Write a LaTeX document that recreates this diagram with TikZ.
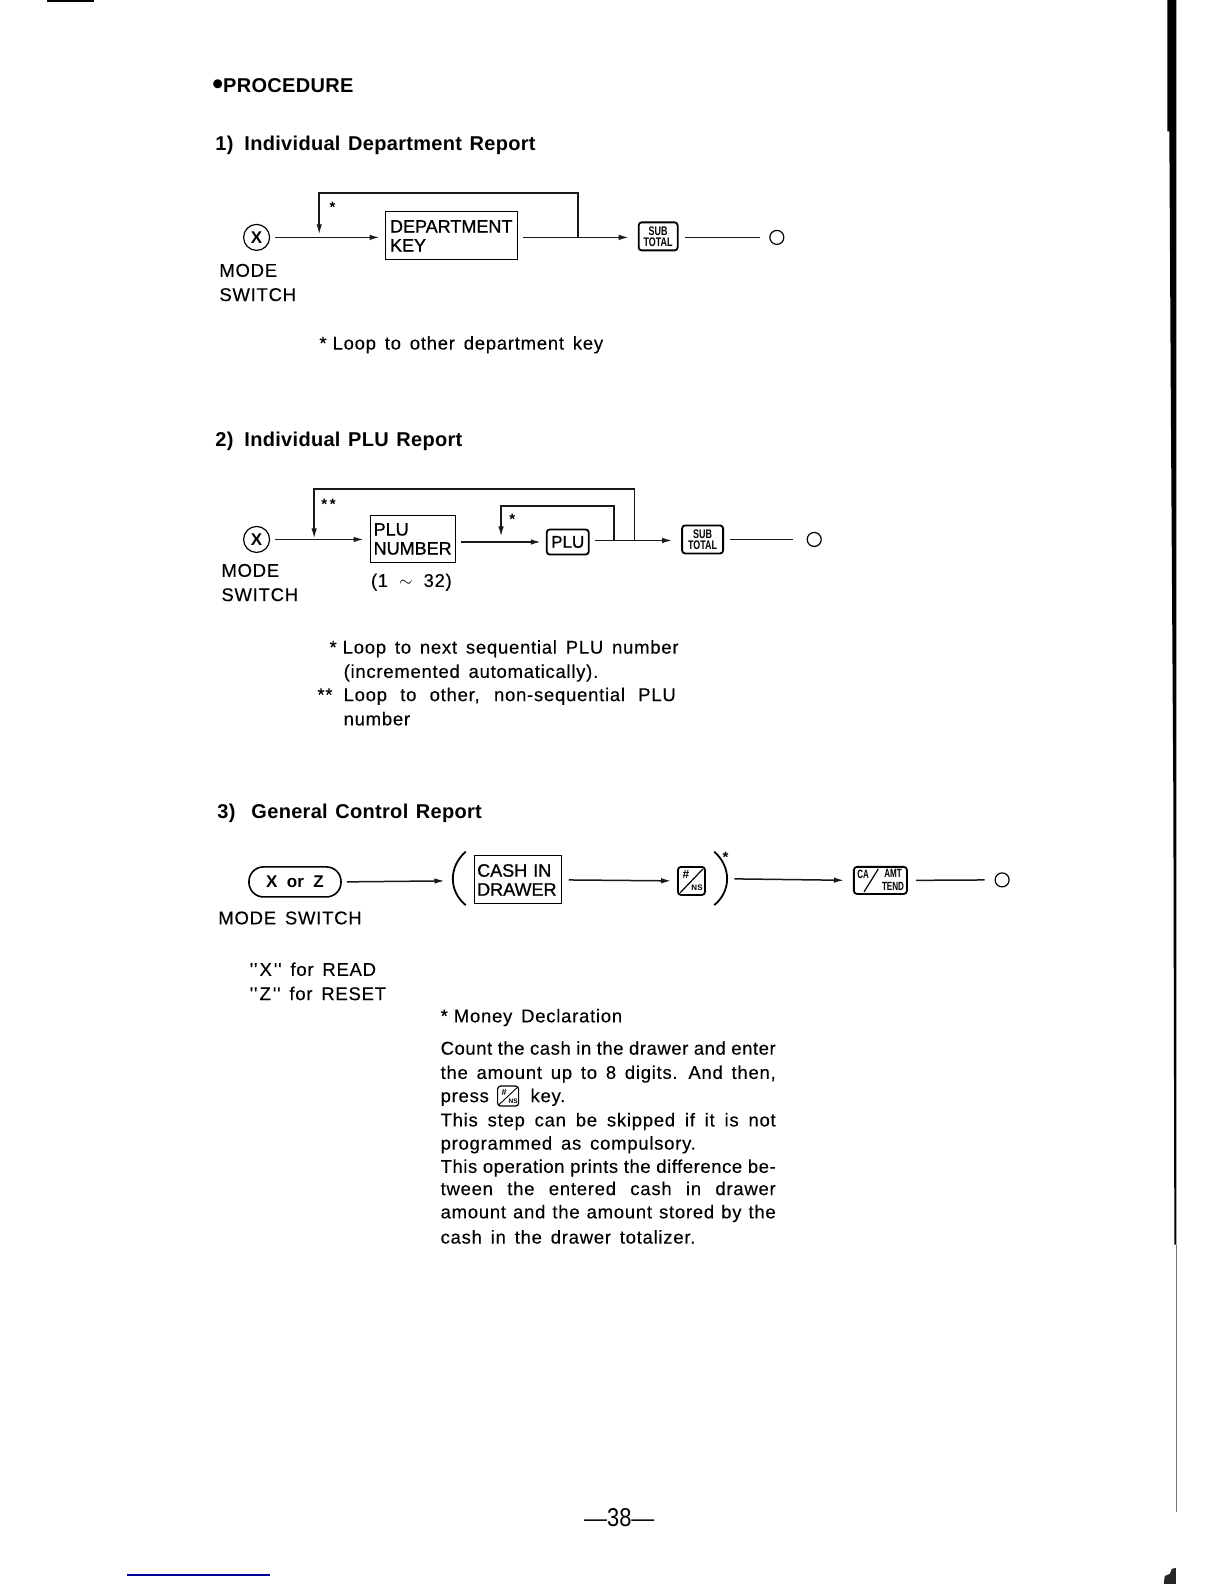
\documentclass[tikz,border=0pt]{standalone}
\usepackage{fontspec}
\usepackage{graphicx}
\usetikzlibrary{arrows.meta,calc}
\setmainfont{Liberation Sans}
\newfontfamily\bodyf[LetterSpace=4,WordSpace=1.5,FakeBold=0.2]{Liberation Sans}
\newfontfamily\tightf[LetterSpace=3,FakeBold=0.2]{Liberation Sans}
\newfontfamily\boxf[FakeBold=0.9]{Liberation Sans}
\newfontfamily\boldf[LetterSpace=1.5,WordSpace=1.3]{Liberation Sans Bold}
\tikzset{
  x=1.0099pt,y=-1.0099pt,
  line/.style={line width=1.5pt,black!90},
  arr/.style={line,-{Latex[length=10pt,width=5.5pt]}},
  txt/.style={inner sep=0pt,anchor=base west,font=\bodyf\fontsize{18.5}{22}\selectfont,text=black},
  startxt/.style={inner sep=0pt,anchor=base west,font=\bfseries\fontsize{15}{15}\selectfont},
  head/.style={inner sep=0pt,anchor=base west,font=\boldf\fontsize{20}{22}\selectfont},
  boxtxt/.style={draw,line width=1pt,inner sep=0pt,anchor=center,align=left,font=\boxf\fontsize{18}{19}\selectfont},
  keybox/.style={draw,line width=1.8pt,rounded corners=3pt,inner sep=0pt,anchor=center},
  endc/.style={circle,draw,line width=1.2pt,minimum size=14pt,inner sep=0pt},
  xc/.style={circle,draw,line width=1.2pt,minimum size=26pt,inner sep=0pt,font=\bfseries\fontsize{17}{17}\selectfont},
  tinyk/.style={inner sep=0pt,font=\bfseries\fontsize{9.5}{10}\selectfont},
}
\newcommand{\subtot}{\resizebox{29pt}{20pt}{\shortstack{\bfseries SUB\\[-1pt]\bfseries TOTAL}}}
\begin{document}
\begin{tikzpicture}
\path[use as bounding box,fill=white] (0,0) rectangle (1212,1568);
% page scan marks
\draw[line width=2pt,black] (47,0.5) -- (93,0.5);
\fill[black] (1155.5,0) -- (1155.5,130) -- (1157.5,130) -- (1159,400) -- (1161.5,792) -- (1162.5,1232) -- (1164.5,1232) -- (1164.5,0) -- cycle;
\draw[line width=1pt,black!55] (1164.3,1232) -- (1164.3,1497);
\draw[line width=1.2pt,blue!60!black] (126,1559) -- (267,1559);
\fill[black!85] (1164,1552) -- (1164,1568) -- (1152,1568) -- (1153,1560) -- (1158,1558) -- (1160,1553) -- cycle;

\node[head] (h0) at (210,92) {\raisebox{-1.5pt}{\fontsize{31}{31}\selectfont\textbullet}PROCEDURE};
\node[head] (h1) at (213,149) {1)\hspace{11pt}Individual Department Report};

% section 1
\node[xc] (x1) at (254,235) {X};
\node[boxtxt,minimum width=132pt,minimum height=48pt,text width=122pt] (dept) at (446.5,233.5) {DEPARTMENT\\KEY};
\node[keybox,minimum width=39pt,minimum height=28pt] (st1) at (651.5,234) {\subtot};
\node[endc] (e1) at (769,235) {};
\coordinate (j1) at (316,232);
\coordinate (r1) at (572,235);
\draw[arr,shorten <=5pt,shorten >=5pt] (x1.east) -- (dept.west |- x1.east);
\draw[arr,shorten <=5pt,shorten >=9pt] (dept.east |- r1) -- (st1.west |- r1);
\draw[line,shorten <=6pt,shorten >=9pt] (st1.east |- e1) -- (e1.west);
\draw[arr] (r1) -- (572,191) -- (316,191) -- (j1);
\node[startxt] (s1) at (326,210) {*};
\node[txt] (m1a) at (217,274) {MODE};
\node[txt] (m1b) at (217,298) {SWITCH};
\node[txt] (n1) at (316,346) {*\hspace{6pt}Loop to other department key};

% section 2
\node[head] (h2) at (213,442) {2)\hspace{11pt}Individual PLU Report};
\node[xc] (x2) at (254,534) {X};
\node[boxtxt,minimum width=85pt,minimum height=47pt,text width=78pt] (plun) at (408.5,533.5) {PLU\\NUMBER};
\node[keybox,minimum width=42pt,minimum height=25pt,font=\boxf\fontsize{17}{17}\selectfont] (plu) at (562,536.5) {PLU};
\node[keybox,minimum width=41pt,minimum height=28pt] (st2) at (695.5,534) {\subtot};
\node[endc] (e2) at (806,534) {};
\coordinate (j2) at (311,533);
\coordinate (j3) at (496,531);
\coordinate (r2) at (628,535);
\coordinate (r3) at (608,535);
\draw[arr,shorten <=5pt,shorten >=6pt] (x2.east) -- (plun.west |- x2.east);
\draw[arr,shorten <=5pt,shorten >=5pt] (plun.east |- plu.west) -- (plu.west);
\draw[arr,shorten <=5pt,shorten >=9pt] (plu.east |- r2) -- (st2.west |- r2);
\draw[line,shorten <=6pt,shorten >=14pt] (st2.east |- e2) -- (e2.west);
\draw[arr] (r2) -- (628,484) -- (311,484) -- (j2);
\draw[arr] (r3) -- (608,501) -- (496,501) -- (j3);
\node[startxt] (s2a) at (318,504) {*\,*};
\node[startxt] (s2b) at (504,519) {*};
\node[txt] (r2t) at (367,581) {(1\hspace{11pt}$\sim$\hspace{11pt}32)};
\node[txt] (m2a) at (219,571) {MODE};
\node[txt] (m2b) at (219,595) {SWITCH};
\node[txt] (n2a) at (326,647) {*\hspace{6pt}Loop to next sequential PLU number};
\node[txt] (n2b) at (340,671) {(incremented automatically).};
\node[txt] (n2c0) at (314,694) {**};
\node[txt] (n2c) at (340,694) {\makebox[332pt][s]{Loop to other, non-sequential PLU}};
\node[txt] (n2d) at (340,718) {number};

% section 3
\node[head] (h3) at (215,810) {3)\hspace{16pt}General Control Report};
\node[draw,line width=1.6pt,rounded corners=14.5pt,minimum width=92pt,minimum height=30pt,inner sep=0pt,font=\bfseries\fontsize{17}{17}\selectfont] (xz) at (292,873) {X\ \ or\ \ Z};
\node[boxtxt,minimum width=87pt,minimum height=48pt,text width=81pt] (cash) at (512.5,871) {CASH IN\\DRAWER};
\node[keybox,minimum width=27pt,minimum height=28pt] (ns) at (684.5,872) {};
\draw[line width=1.2pt] ($(ns.south west)+(3,-3)$) -- ($(ns.north east)+(-3,3)$);
\node[tinyk,font=\bfseries\fontsize{12}{12}\selectfont] (nsa) at (679,866) {\#};
\node[tinyk,font=\bfseries\fontsize{8}{8}\selectfont] (nsb) at (690,879) {NS};
\node[keybox,minimum width=53pt,minimum height=27pt] (ca) at (871.5,871.5) {};
\draw[line width=1.2pt] ($(ca.south west)+(11,-3)$) -- ($(ca.north west)+(25,3)$);
\node[tinyk,font=\bfseries\fontsize{10}{10}\selectfont] (caa) at (854.5,866) {\scalebox{0.8}[1.2]{CA}};
\node[tinyk] (cab) at (884,865) {\scalebox{0.85}[1.25]{AMT}};
\node[tinyk] (cac) at (884,877) {\scalebox{0.85}[1.25]{TEND}};
\node[endc] (e3) at (992,871) {};
\draw[line width=1.8pt] (461,843) .. controls (444,858) and (444,882) .. (461,896);
\draw[line width=1.8pt] (707,843) .. controls (724,858) and (724,882) .. (707,896);
\coordinate (pc) at (727,870);
\node[startxt] (s3) at (715,854) {*};
\draw[arr,shorten <=5pt] (xz.east) -- (440,872);
\draw[arr,shorten <=7pt,shorten >=6pt] (cash.east) -- (ns.west);
\draw[arr,shorten >=9pt] (pc) -- (ca.west);
\draw[line,shorten <=8pt,shorten >=10pt] (ca.east) -- (e3.west);
\node[txt] (m3) at (216,915) {MODE SWITCH};
\node[txt] (r1a) at (247,966) {''\kern2pt X\kern2pt '' for READ};
\node[txt] (r1b) at (247,990) {''\kern2pt Z\kern2pt '' for RESET};
\node[txt] (d0) at (436,1012) {*\hspace{6pt}Money Declaration};
\node[txt,font=\tightf\fontsize{18.5}{22}\selectfont] (d1) at (436,1044) {\makebox[335pt][s]{Count the cash in the drawer and enter}};
\node[txt] (d2) at (436,1068) {\makebox[335pt][s]{the amount up to 8 digits. And then,}};
\node[txt] (d3a) at (436,1091) {press};
\node[keybox,line width=1.2pt,minimum width=21pt,minimum height=20pt] (dk) at (503,1085) {};
\draw[line width=0.9pt] ($(dk.south west)+(2,-2)$) -- ($(dk.north east)+(-2,2)$);
\node[tinyk,font=\bfseries\fontsize{9}{9}\selectfont] (dka) at (499,1081) {\#};
\node[tinyk,font=\bfseries\fontsize{6.5}{6.5}\selectfont] (dkb) at (508,1090) {NS};
\node[txt] (d3b) at (525,1091) {key.};
\node[txt] (d4) at (436,1115) {\makebox[335pt][s]{This step can be skipped if it is not}};
\node[txt] (d5) at (436,1138) {programmed as compulsory.};
\node[txt,font=\tightf\fontsize{18.5}{22}\selectfont] (d6) at (436,1161) {\makebox[335pt][s]{This operation prints the difference be-}};
\node[txt] (d7) at (436,1183) {\makebox[335pt][s]{tween the entered cash in drawer}};
\node[txt] (d8) at (436,1206) {\makebox[335pt][s]{amount and the amount stored by the}};
\node[txt] (d9) at (436,1231) {cash in the drawer totalizer.};
\node[inner sep=0pt,anchor=base,font=\fontsize{23}{24}\selectfont] (pg) at (613,1511) {---\scalebox{0.95}[1.12]{38}---};
\end{tikzpicture}
\end{document}
